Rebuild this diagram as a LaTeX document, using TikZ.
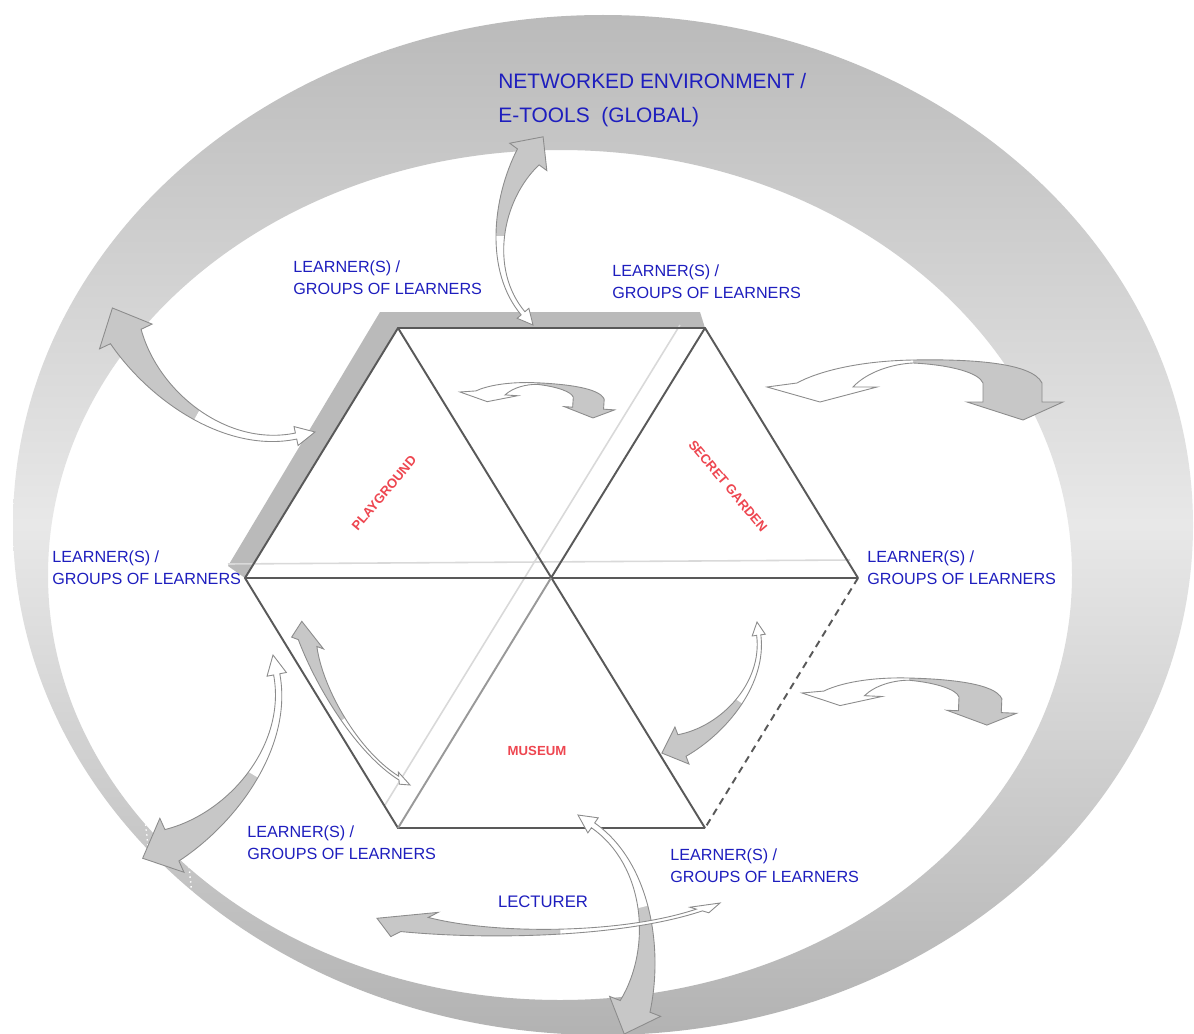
\documentclass[tikz,border=0pt]{standalone}
\usepackage{fontspec}
\setmainfont{Liberation Sans}
\definecolor{labelblue}{RGB}{30,30,190}
\definecolor{zonered}{RGB}{238,70,80}
\colorlet{ribbongray}{black!22}
\colorlet{ribbonedge}{black!45}
% tapered double arrow, white tail at (0,0), gray head at (196,-7)
\newcommand{\sweeppath}{(0,0) -- (17.3,4.6) -- (13.7,8.7) .. controls (57,46.5) and (129,35) .. (166.9,-3.4)
  -- (161.1,-11.6) -- (196.2,-7.1) -- (188.9,27.6) -- (183.1,19.4) .. controls (131,45) and (55,51.5) .. (10.3,12.5)
  -- (6.7,16.6) -- cycle}
% arched double arrow, white tail at (0,0), gray head at (256,-33)
\newcommand{\archpath}{(0,0) -- (53,-15) -- (110,0) -- (86,0) .. controls (100,15) and (125,23) .. (146,24)
  .. controls (185,22) and (212,14) .. (216,4) -- (216,-15) -- (200,-15) -- (256,-33) -- (296,-15) -- (275,-15)
  -- (275,4) .. controls (265,25) and (200,28) .. (146,27) .. controls (90,26) and (50,15) .. (30,4) -- cycle}
\newcommand{\sweeparrow}[2]{%
  \begin{scope}[shift={#1},x=0.02cm,y=0.02cm,#2]
    \fill[ribbongray] \sweeppath;
    \begin{scope}\clip (-40,-60) rectangle (92,80); \fill[white] \sweeppath;\end{scope}
    \draw[ribbonedge,line width=0.5pt] \sweeppath;
  \end{scope}}
\newcommand{\archarrow}[2]{%
  \begin{scope}[shift={#1},x=0.02cm,y=0.02cm,#2]
    \fill[ribbongray] \archpath;
    \begin{scope}\clip (-40,-60) rectangle (146,60); \fill[white] \archpath;\end{scope}
    \draw[ribbonedge,line width=0.5pt] \archpath;
  \end{scope}}
\tikzset{
  learner/.style={text=labelblue,font=\fontsize{9.2}{12.5}\selectfont,align=left,inner sep=0pt,anchor=west},
  netlabel/.style={text=labelblue,font=\fontsize{11.9}{19.8}\selectfont,align=left,inner sep=0pt,anchor=west},
  zone/.style={text=zonered,font=\bfseries\fontsize{7.5}{8}\selectfont,inner sep=0pt},
  hexline/.style={black!65,line width=1.1pt},
  ghostline/.style={black!15,line width=0.9pt}
}
\begin{document}
\begin{tikzpicture}[x=0.02cm,y=-0.02cm]
  \fill[white] (0,0) rectangle (1194,1034);
  \useasboundingbox (0,0) rectangle (1194,1034);
  % outer ribbon
  \shade[even odd rule,top color=black!27,bottom color=black!30,middle color=black!9]
    (603,525) ellipse [x radius=590,y radius=510] (560,575) ellipse [x radius=512,y radius=425];
  \draw[white,dotted,line width=0.8pt] (143,800) -- (150,865) (187,847) -- (193,905);
  % hexagon
  \coordinate (tl) at (398,328); \coordinate (tr) at (705,328);
  \coordinate (rr) at (858,578); \coordinate (br) at (705,828);
  \coordinate (bl) at (398,828); \coordinate (ll) at (245,578);
  \coordinate (c) at (551,578);
  \fill[black!27] (380,312) -- (700,312) -- (tr) -- (tl) -- (ll) -- (228,566) -- cycle;
  \draw[ghostline] (228,564) -- (850,560);
  \draw[ghostline] (680,325) -- (385,805);
  \draw[hexline] (br) -- (bl) -- (ll) -- (tl) -- (tr) -- (rr);
  \draw[hexline,dash pattern=on 4pt off 3pt] (rr) -- (br);
  \draw[hexline] (tl) -- (br) (ll) -- (rr) (tr) -- (c);
  \draw[hexline,black!40] (c) -- (bl);
  % arrows
  \sweeparrow{(533,325)}{rotate=89,scale=0.96}
  \sweeparrow{(315,432)}{rotate=150.6,scale=1.21}
  \sweeparrow{(273,655)}{rotate=-120.6,scale=1.23}
  \sweeparrow{(410,785)}{rotate=124.5,xscale=1,yscale=0.5}
  \sweeparrow{(757,622)}{rotate=-123.9,scale=0.825}
  \sweeparrow{(578,815)}{rotate=-76,scale=1.14}
  \sweeparrow{(720,903)}{rotate=-176.8,xscale=1.75,yscale=0.55}
  \archarrow{(460,392)}{rotate=-3.7,scale=0.525}
  \archarrow{(767,387)}{}
  \archarrow{(802,693)}{rotate=-2.5,scale=0.727}
  % labels
  \node[netlabel] (net) at (498,100) {NETWORKED ENVIRONMENT /\\E-TOOLS\ \ (GLOBAL)};
  \node[learner] (l1) at (293,278) {LEARNER(S) /\\GROUPS OF LEARNERS};
  \node[learner] (l2) at (612,282) {LEARNER(S) /\\GROUPS OF LEARNERS};
  \node[learner] (l3) at (52,568) {LEARNER(S) /\\GROUPS OF LEARNERS};
  \node[learner] (l4) at (867,568) {LEARNER(S) /\\GROUPS OF LEARNERS};
  \node[learner] (l5) at (247,843) {LEARNER(S) /\\GROUPS OF LEARNERS};
  \node[learner] (l6) at (670,866) {LEARNER(S) /\\GROUPS OF LEARNERS};
  \node[learner,anchor=center,font=\fontsize{9.5}{11}\selectfont] (lect) at (543,902) {LECTURER};
  \node[zone,rotate=50] (play) at (384,493) {PLAYGROUND};
  \node[zone,rotate=-50] (secret) at (728,486) {SECRET GARDEN};
  \node[zone] (museum) at (537,751) {MUSEUM};
\end{tikzpicture}
\end{document}
